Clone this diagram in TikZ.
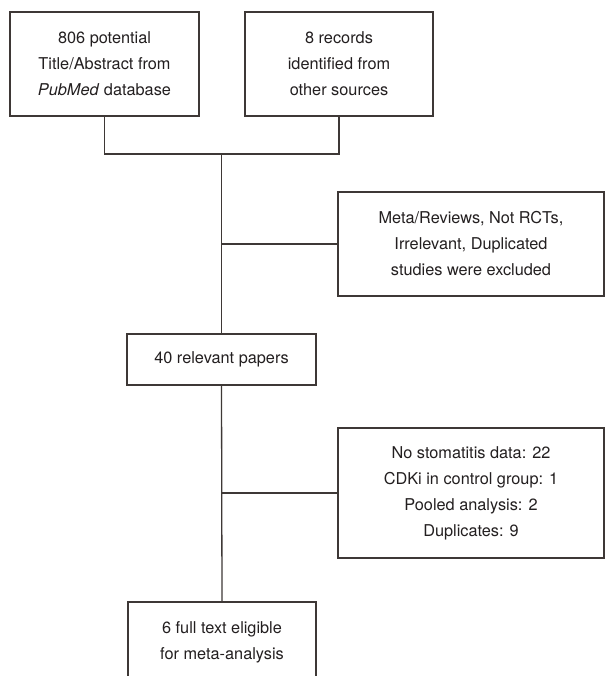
\documentclass[tikz,border=0pt]{standalone}
\usepackage{fontspec}
\setmainfont{TeX Gyre Heros}
\definecolor{linec}{RGB}{62,56,54}
\definecolor{textc}{RGB}{35,31,32}
\begin{document}
\begin{tikzpicture}[x=1pt,y=-1pt,
  fbox/.style={draw=linec, line width=1.3pt, align=center, inner sep=0pt,
    text=textc, font=\fontsize{16.3}{26}\selectfont},
  conn/.style={draw=linec, line width=1.3pt}]
\useasboundingbox (0,0) rectangle (605,676);
\clip (0,0) rectangle (605,676);
\fill[white] (0,0) rectangle (605,676);
\node[fbox, minimum width=189pt, minimum height=104pt] (b1) at (104.5,64)
  {806 potential\\Title/Abstract from\\\textit{PubMed} database};
\node[fbox, minimum width=188pt, minimum height=104pt] (b2) at (339,64)
  {8 records\\identified from\\other sources};
\node[fbox, minimum width=266pt, minimum height=104pt] (meta) at (471,244)
  {Meta/Reviews, Not RCTs,\\Irrelevant, Duplicated\\studies were excluded};
\node[fbox, minimum width=189pt, minimum height=51pt] (p40) at (221.5,359.5)
  {40 relevant papers};
\node[fbox, minimum width=266pt, minimum height=130pt] (stom) at (471,493)
  {No stomatitis data: 22\\CDKi in control group: 1\\Pooled analysis: 2\\Duplicates: 9};
\node[fbox, minimum width=188pt, minimum height=80pt] (final) at (222,642)
  {6 full text eligible\\for meta-analysis};
\coordinate (j) at (221.5,154);
\draw[conn] (b1.south) |- (j) -| (b2.south);
\draw[conn] (j) -- (p40.north);
\draw[conn] (meta.west) -- (meta.west -| j);
\draw[conn] (p40.south) -- (final.north);
\draw[conn] (stom.west) -- (stom.west -| p40.south);
\end{tikzpicture}
\end{document}
